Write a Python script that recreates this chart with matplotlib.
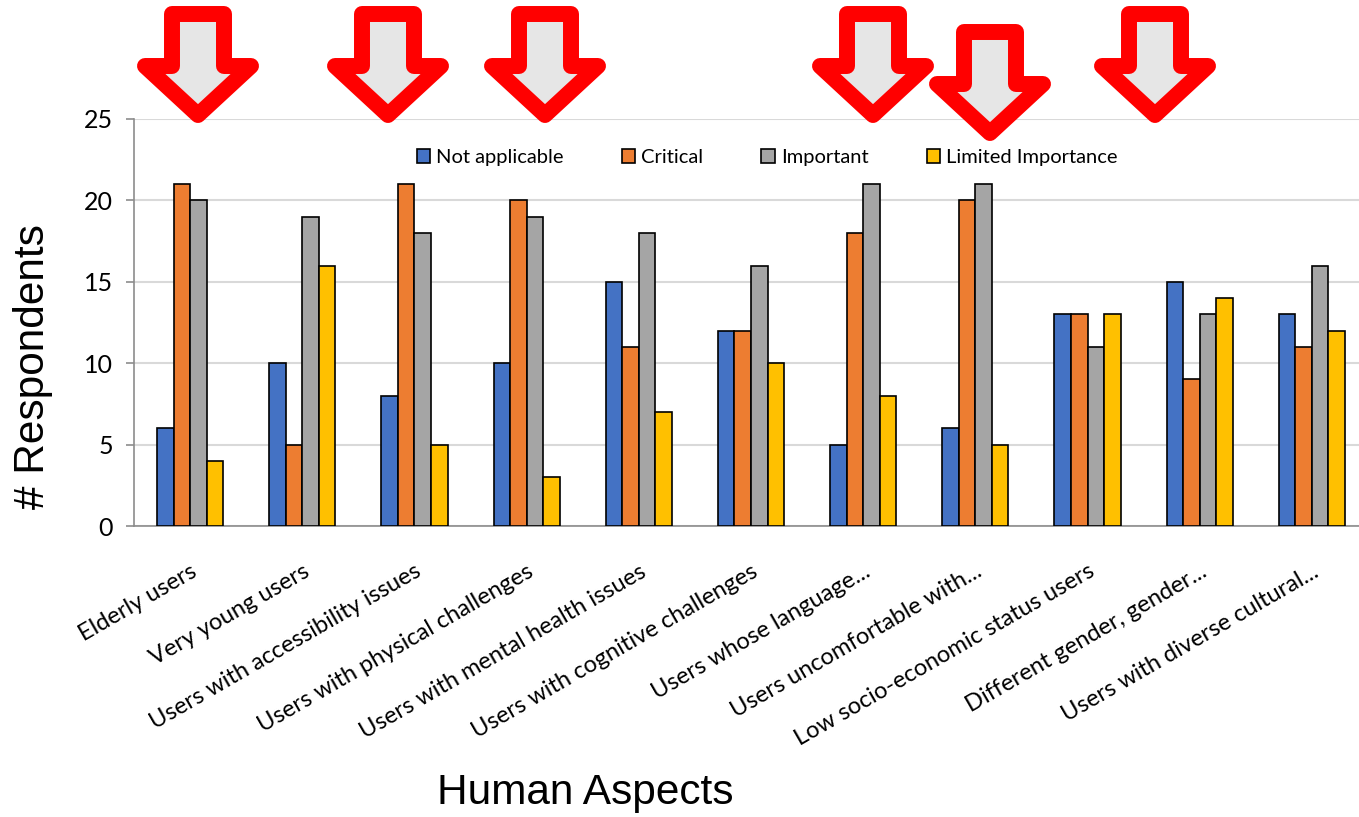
import matplotlib
matplotlib.use("Agg")
import matplotlib.pyplot as plt
from matplotlib.patches import Polygon
import numpy as np

categories = ["Elderly users", "Very young users", "Users with accessibility issues",
              "Users with physical challenges", "Users with mental health issues",
              "Users with cognitive challenges", "Users whose language...",
              "Users uncomfortable with...", "Low socio-economic status users",
              "Different gender, gender...", "Users with diverse cultural..."]
series_names = ["Not applicable", "Critical", "Important", "Limited Importance"]
not_applicable = [6, 10, 8, 10, 15, 12, 5, 6, 13, 15, 13]
critical = [21, 5, 21, 20, 11, 12, 18, 20, 13, 9, 11]
important = [20, 19, 18, 19, 18, 16, 21, 21, 11, 13, 16]
limited = [4, 16, 5, 3, 7, 10, 8, 5, 13, 14, 12]
colors = ["#4472C4", "#ED7D31", "#A5A5A5", "#FFC000"]
yticks = [0, 5, 10, 15, 20, 25]

# arrow annotations: (center x px, tip y px)
arrows = [(198, 115), (388, 115), (545, 115), (873, 115), (990, 133), (1155, 115)]

W, H = 1359, 817
fig = plt.figure(figsize=(W / 100, H / 100), dpi=100)
ax = fig.add_axes([134 / W, 1 - 526 / H, (1368 - 134) / W, (526 - 119) / H])

x = np.arange(len(categories))
bw = 0.1475
data = [not_applicable, critical, important, limited]
for i, (vals, name, c) in enumerate(zip(data, series_names, colors)):
    ax.bar(x + (i - 1.5) * bw, vals, bw, color=c, edgecolor="black",
           linewidth=1.2, label=name, zorder=3)

ax.set_xlim(-0.5, len(categories) - 0.5)
ax.set_ylim(0, 25)
ax.set_yticks(yticks)
ax.yaxis.grid(True, color="#d9d9d9", linewidth=1.5, zorder=0)
for s in ["top", "right"]:
    ax.spines[s].set_visible(False)
for s in ["left", "bottom"]:
    ax.spines[s].set_color("#8c8c8c")
    ax.spines[s].set_linewidth(1.2)
ax.tick_params(axis="y", length=6, color="#8c8c8c", width=1.2, labelsize=18, pad=9)
ax.tick_params(axis="x", length=0, pad=25)
for lab in ax.get_yticklabels():
    lab.set_fontfamily("Lato")
ax.set_xticks(x)
ax.set_xticklabels(categories, rotation=30, ha="right", rotation_mode="anchor",
                   fontsize=17, fontfamily="Lato")

leg = ax.legend(loc="center", bbox_to_anchor=(0.513, 0.905), ncol=4, frameon=False,
                handlelength=0.65, handleheight=0.65, handletextpad=0.3,
                columnspacing=2.9, prop={"family": "Lato", "size": 14.5})

fig.text(33 / W, 1 - 367 / H, "# Respondents", rotation=90, ha="center", va="center",
         fontsize=30.5, fontfamily="Liberation Sans")
fig.text(585 / W, 1 - 793 / H, "Human Aspects", ha="center", va="center",
         fontsize=30.5, fontfamily="Liberation Sans")

for cx, tip in arrows:
    top = tip - 101
    wing = tip - 49
    pts_px = [(cx - 26, top), (cx + 26, top), (cx + 26, wing), (cx + 53, wing),
              (cx, tip), (cx - 53, wing), (cx - 26, wing)]
    pts = [(px / W, 1 - py / H) for px, py in pts_px]
    fig.patches.append(Polygon(pts, closed=True, transform=fig.transFigure,
                               facecolor="#e6e6e6", edgecolor="#ff0000",
                               linewidth=11.5, joinstyle="round", zorder=10))

fig.savefig("out.png", dpi=100)
